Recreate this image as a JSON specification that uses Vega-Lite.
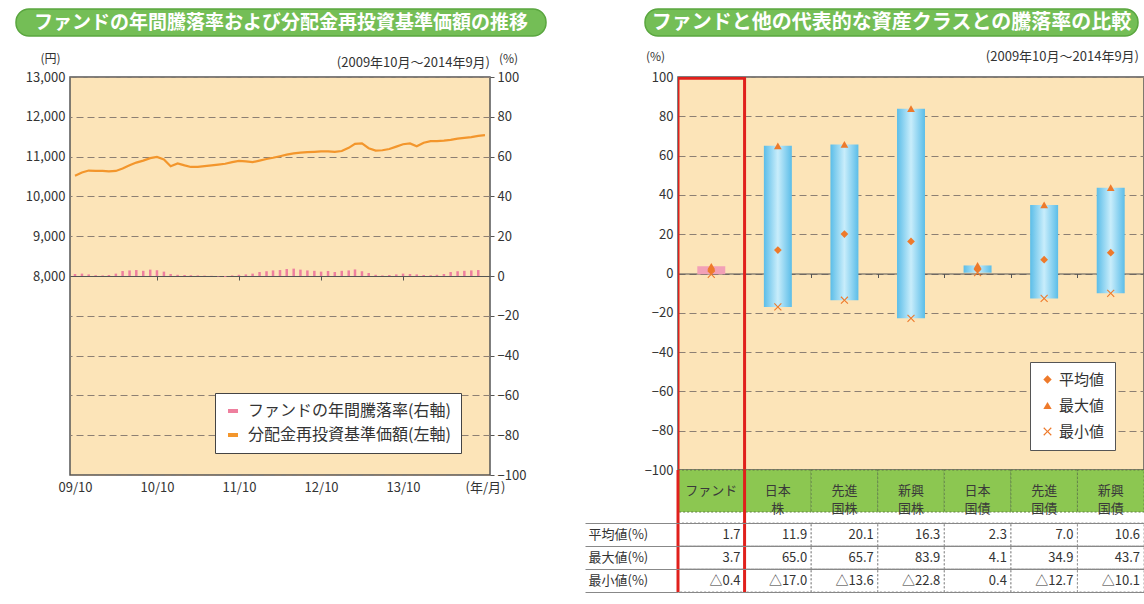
{
  "$schema": "https://vega.github.io/schema/vega-lite/v6.json",
  "background": "white",
  "padding": {"left": 15, "top": 8, "right": 0, "bottom": 0},
  "config": {
    "font": "Noto Sans CJK JP",
    "view": {"stroke": null},
    "axis": {"labelFont": "Noto Sans CJK JP", "titleFont": "Noto Sans CJK JP", "labelColor": "#333", "titleColor": "#333", "labelFontSize": 13, "titleFontSize": 12, "titleFontWeight": "normal"},
    "legend": {"labelFont": "Noto Sans CJK JP"},
    "title": {"font": "Noto Sans CJK JP"}
  },
  "datasets": {
    "nav": [
      {"d": "2009-10-01", "v": 10520}, {"d": "2009-11-01", "v": 10600}, {"d": "2009-12-01", "v": 10650},
      {"d": "2010-01-01", "v": 10640}, {"d": "2010-02-01", "v": 10640}, {"d": "2010-03-01", "v": 10630},
      {"d": "2010-04-01", "v": 10640}, {"d": "2010-05-01", "v": 10700}, {"d": "2010-06-01", "v": 10780},
      {"d": "2010-07-01", "v": 10850}, {"d": "2010-08-01", "v": 10900}, {"d": "2010-09-01", "v": 10960},
      {"d": "2010-10-01", "v": 10990}, {"d": "2010-11-01", "v": 10930}, {"d": "2010-12-01", "v": 10760},
      {"d": "2011-01-01", "v": 10830}, {"d": "2011-02-01", "v": 10780}, {"d": "2011-03-01", "v": 10740},
      {"d": "2011-04-01", "v": 10740}, {"d": "2011-05-01", "v": 10760}, {"d": "2011-06-01", "v": 10780},
      {"d": "2011-07-01", "v": 10800}, {"d": "2011-08-01", "v": 10820}, {"d": "2011-09-01", "v": 10860},
      {"d": "2011-10-01", "v": 10890}, {"d": "2011-11-01", "v": 10880}, {"d": "2011-12-01", "v": 10860},
      {"d": "2012-01-01", "v": 10900}, {"d": "2012-02-01", "v": 10940}, {"d": "2012-03-01", "v": 10970},
      {"d": "2012-04-01", "v": 11010}, {"d": "2012-05-01", "v": 11050}, {"d": "2012-06-01", "v": 11080},
      {"d": "2012-07-01", "v": 11100}, {"d": "2012-08-01", "v": 11110}, {"d": "2012-09-01", "v": 11120},
      {"d": "2012-10-01", "v": 11130}, {"d": "2012-11-01", "v": 11130}, {"d": "2012-12-01", "v": 11120},
      {"d": "2013-01-01", "v": 11140}, {"d": "2013-02-01", "v": 11220}, {"d": "2013-03-01", "v": 11320},
      {"d": "2013-04-01", "v": 11330}, {"d": "2013-05-01", "v": 11210}, {"d": "2013-06-01", "v": 11150},
      {"d": "2013-07-01", "v": 11160}, {"d": "2013-08-01", "v": 11190}, {"d": "2013-09-01", "v": 11250},
      {"d": "2013-10-01", "v": 11310}, {"d": "2013-11-01", "v": 11330}, {"d": "2013-12-01", "v": 11260},
      {"d": "2014-01-01", "v": 11350}, {"d": "2014-02-01", "v": 11390}, {"d": "2014-03-01", "v": 11390},
      {"d": "2014-04-01", "v": 11400}, {"d": "2014-05-01", "v": 11420}, {"d": "2014-06-01", "v": 11450},
      {"d": "2014-07-01", "v": 11470}, {"d": "2014-08-01", "v": 11490}, {"d": "2014-09-01", "v": 11520},
      {"d": "2014-10-01", "v": 11540}
    ],
    "ret": [
      {"d": "2009-10-01", "r": 1.0}, {"d": "2009-11-01", "r": 1.2}, {"d": "2009-12-01", "r": 0.8},
      {"d": "2010-01-01", "r": 0.4}, {"d": "2010-02-01", "r": 0.3}, {"d": "2010-03-01", "r": 0.5},
      {"d": "2010-04-01", "r": 1.2}, {"d": "2010-05-01", "r": 2.5}, {"d": "2010-06-01", "r": 2.8},
      {"d": "2010-07-01", "r": 3.0}, {"d": "2010-08-01", "r": 2.6}, {"d": "2010-09-01", "r": 3.2},
      {"d": "2010-10-01", "r": 2.9}, {"d": "2010-11-01", "r": 2.2}, {"d": "2010-12-01", "r": 1.0},
      {"d": "2011-01-01", "r": 0.6}, {"d": "2011-02-01", "r": 0.5}, {"d": "2011-03-01", "r": 0.4},
      {"d": "2011-04-01", "r": 0.3}, {"d": "2011-05-01", "r": 0.2}, {"d": "2011-06-01", "r": 0.1},
      {"d": "2011-07-01", "r": -0.2}, {"d": "2011-08-01", "r": -0.4}, {"d": "2011-09-01", "r": 0.3},
      {"d": "2011-10-01", "r": 0.6}, {"d": "2011-11-01", "r": 0.8}, {"d": "2011-12-01", "r": 1.2},
      {"d": "2012-01-01", "r": 2.0}, {"d": "2012-02-01", "r": 2.4}, {"d": "2012-03-01", "r": 2.8},
      {"d": "2012-04-01", "r": 3.0}, {"d": "2012-05-01", "r": 3.5}, {"d": "2012-06-01", "r": 3.7},
      {"d": "2012-07-01", "r": 3.2}, {"d": "2012-08-01", "r": 2.8}, {"d": "2012-09-01", "r": 2.6},
      {"d": "2012-10-01", "r": 2.2}, {"d": "2012-11-01", "r": 2.5}, {"d": "2012-12-01", "r": 2.0},
      {"d": "2013-01-01", "r": 2.6}, {"d": "2013-02-01", "r": 2.8}, {"d": "2013-03-01", "r": 3.3},
      {"d": "2013-04-01", "r": 2.4}, {"d": "2013-05-01", "r": 1.5}, {"d": "2013-06-01", "r": 0.6},
      {"d": "2013-07-01", "r": 0.3}, {"d": "2013-08-01", "r": 0.5}, {"d": "2013-09-01", "r": 0.8},
      {"d": "2013-10-01", "r": 1.2}, {"d": "2013-11-01", "r": 1.0}, {"d": "2013-12-01", "r": 0.8},
      {"d": "2014-01-01", "r": 0.5}, {"d": "2014-02-01", "r": 0.4}, {"d": "2014-03-01", "r": 0.6},
      {"d": "2014-04-01", "r": 1.0}, {"d": "2014-05-01", "r": 2.0}, {"d": "2014-06-01", "r": 2.4},
      {"d": "2014-07-01", "r": 2.6}, {"d": "2014-08-01", "r": 2.8}, {"d": "2014-09-01", "r": 3.0}
    ],
    "assets": [
      {"cat": "ファンド", "head": "ファンド", "mean": 1.7, "max": 3.7, "min": -0.4},
      {"cat": "日本株", "head": "日本\n株", "mean": 11.9, "max": 65.0, "min": -17.0},
      {"cat": "先進国株", "head": "先進\n国株", "mean": 20.1, "max": 65.7, "min": -13.6},
      {"cat": "新興国株", "head": "新興\n国株", "mean": 16.3, "max": 83.9, "min": -22.8},
      {"cat": "日本国債", "head": "日本\n国債", "mean": 2.3, "max": 4.1, "min": 0.4},
      {"cat": "先進国債", "head": "先進\n国債", "mean": 7.0, "max": 34.9, "min": -12.7},
      {"cat": "新興国債", "head": "新興\n国債", "mean": 10.6, "max": 43.7, "min": -10.1}
    ],
    "table": [
      {"cat": "ファンド", "row": "平均値(%)", "text": "1.7"},
      {"cat": "日本株", "row": "平均値(%)", "text": "11.9"},
      {"cat": "先進国株", "row": "平均値(%)", "text": "20.1"},
      {"cat": "新興国株", "row": "平均値(%)", "text": "16.3"},
      {"cat": "日本国債", "row": "平均値(%)", "text": "2.3"},
      {"cat": "先進国債", "row": "平均値(%)", "text": "7.0"},
      {"cat": "新興国債", "row": "平均値(%)", "text": "10.6"},
      {"cat": "ファンド", "row": "最大値(%)", "text": "3.7"},
      {"cat": "日本株", "row": "最大値(%)", "text": "65.0"},
      {"cat": "先進国株", "row": "最大値(%)", "text": "65.7"},
      {"cat": "新興国株", "row": "最大値(%)", "text": "83.9"},
      {"cat": "日本国債", "row": "最大値(%)", "text": "4.1"},
      {"cat": "先進国債", "row": "最大値(%)", "text": "34.9"},
      {"cat": "新興国債", "row": "最大値(%)", "text": "43.7"},
      {"cat": "ファンド", "row": "最小値(%)", "text": "△0.4"},
      {"cat": "日本株", "row": "最小値(%)", "text": "△17.0"},
      {"cat": "先進国株", "row": "最小値(%)", "text": "△13.6"},
      {"cat": "新興国株", "row": "最小値(%)", "text": "△22.8"},
      {"cat": "日本国債", "row": "最小値(%)", "text": "0.4"},
      {"cat": "先進国債", "row": "最小値(%)", "text": "△12.7"},
      {"cat": "新興国債", "row": "最小値(%)", "text": "△10.1"}
    ]
  },
  "spacing": 12,
  "resolve": {"scale": {"color": "independent", "shape": "independent"}, "legend": {"color": "independent", "shape": "independent"}},
  "vconcat": [
    {
      "spacing": 97,
      "hconcat": [
        {
          "width": 530,
          "height": 27,
          "data": {"values": [{"t": "ファンドの年間騰落率および分配金再投資基準価額の推移"}]},
          "encoding": {
            "x": {"field": "t", "type": "nominal", "axis": null, "scale": {"paddingInner": 0, "paddingOuter": 0}},
            "y": {"field": "t", "type": "nominal", "axis": null, "scale": {"paddingInner": 0, "paddingOuter": 0}}
          },
          "layer": [
            {"mark": {"type": "rect", "fill": "#74be56", "stroke": "#5aa63f", "strokeWidth": 1.5, "cornerRadius": 13}},
            {"mark": {"type": "text", "color": "white", "fontSize": 19, "fontWeight": "bold"}, "encoding": {"text": {"field": "t"}}}
          ]
        },
        {
          "width": 493,
          "height": 27,
          "data": {"values": [{"t": "ファンドと他の代表的な資産クラスとの騰落率の比較"}]},
          "encoding": {
            "x": {"field": "t", "type": "nominal", "axis": null, "scale": {"paddingInner": 0, "paddingOuter": 0}},
            "y": {"field": "t", "type": "nominal", "axis": null, "scale": {"paddingInner": 0, "paddingOuter": 0}}
          },
          "layer": [
            {"mark": {"type": "rect", "fill": "#74be56", "stroke": "#5aa63f", "strokeWidth": 1.5, "cornerRadius": 13}},
            {"mark": {"type": "text", "color": "white", "fontSize": 20, "fontWeight": "bold"}, "encoding": {"text": {"field": "t"}}}
          ]
        }
      ]
    },
    {
      "spacing": 57,
      "resolve": {"scale": {"color": "independent", "shape": "independent"}, "legend": {"color": "independent", "shape": "independent"}},
      "hconcat": [
        {
          "spacing": 0,
          "resolve": {"scale": {"color": "independent"}, "legend": {"color": "independent"}},
          "hconcat": [
            {
              "width": 1,
              "height": 1,
              "data": {"values": [{"a": 0}]},
              "mark": {"type": "point", "opacity": 0, "size": 0},
              "encoding": {}
            },
            {
              "width": 420,
              "height": 398,
              "view": {"fill": "#fce4b8", "stroke": "#555", "strokeWidth": 1.5},
              "title": {"text": "(2009年10月～2014年9月)", "anchor": "end", "frame": "group", "fontSize": 13, "fontWeight": "normal", "color": "#333", "offset": -18},
              "layer": [
                {
                  "data": {"name": "ret"},
                  "mark": {"type": "bar", "width": 2.5},
                  "encoding": {
                    "x": {"field": "d", "type": "temporal", "scale": {"type": "utc", "domain": ["2009-10-01", "2014-10-01"]},
                      "axis": {"orient": "bottom", "offset": -199, "labels": false, "ticks": true, "tickSize": 4, "tickColor": "#555", "domain": true, "domainColor": "#555", "domainWidth": 1.2, "grid": false, "title": null, "values": ["2010-10-01", "2011-10-01", "2012-10-01", "2013-10-01"]}},
                    "y": {"field": "r", "type": "quantitative", "scale": {"domain": [-100, 100]},
                      "axis": {"orient": "right", "values": [-100, -80, -60, -40, -20, 0, 20, 40, 60, 80, 100], "labelOverlap": false, "title": "(%)", "titleAngle": 0, "titleX": 18, "titleY": -19, "titleAlign": "center", "titleBaseline": "middle", "titleFontSize": 12, "grid": true, "gridDash": [7, 4], "gridColor": "#8c7f73", "ticks": true, "tickSize": 4, "tickColor": "#555", "labelPadding": 3, "domain": false}},
                    "color": {"datum": "ファンドの年間騰落率(右軸)", "type": "nominal",
                      "scale": {"domain": ["ファンドの年間騰落率(右軸)", "分配金再投資基準価額(左軸)"], "range": ["#ee7f9e", "#f3962c"]},
                      "legend": {"title": null, "orient": "none", "legendX": 145, "legendY": 316, "fillColor": "white", "strokeColor": "#444", "padding": 10, "labelFontSize": 16, "labelOffset": 7, "labelLimit": 400, "labelColor": "#333", "symbolType": "M-1,-0.4H1V0.4H-1Z", "symbolSize": 100, "symbolStrokeWidth": 0, "rowPadding": 8}}
                  }
                },
                {
                  "data": {"name": "nav"},
                  "mark": {"type": "line", "strokeWidth": 2.2},
                  "encoding": {
                    "x": {"field": "d", "type": "temporal", "scale": {"type": "utc", "domain": ["2009-10-01", "2014-10-01"]},
                      "axis": {"orient": "bottom", "format": "%y/%m", "labelExpr": "datum.label == '14/10' ? '(年/月)' : datum.label", "values": ["2009-10-01", "2010-10-01", "2011-10-01", "2012-10-01", "2013-10-01", "2014-10-01"], "ticks": false, "domain": false, "grid": false, "title": null, "labelPadding": 6}},
                    "y": {"field": "v", "type": "quantitative", "scale": {"domain": [3000, 13000]},
                      "axis": {"orient": "left", "values": [8000, 9000, 10000, 11000, 12000, 13000], "labelExpr": "format(datum.value, ',')", "labelOverlap": false, "grid": false, "ticks": false, "domain": false, "labelPadding": 5, "title": "(円)", "titleAngle": 0, "titleX": -20, "titleY": -19, "titleAlign": "center", "titleBaseline": "middle", "minExtent": 52, "maxExtent": 52}},
                    "color": {"datum": "分配金再投資基準価額(左軸)", "type": "nominal"}
                  }
                }
              ],
              "resolve": {"scale": {"y": "independent"}, "axis": {"x": "independent"}}
            }
          ]
        },
        {
          "spacing": 0,
          "bounds": "flush",
          "resolve": {"scale": {"shape": "independent"}, "legend": {"shape": "independent"}},
          "vconcat": [
            {
              "width": 466,
              "height": 393,
              "view": {"fill": "#fce4b8", "stroke": "#555", "strokeWidth": 1.5},
              "title": {"text": "(2009年10月～2014年9月)", "anchor": "end", "frame": "group", "fontSize": 13, "fontWeight": "normal", "color": "#333", "offset": -14, "dx": -5},
              "data": {"name": "assets"},
              "encoding": {
                "x": {"field": "cat", "type": "nominal", "sort": null,
                  "scale": {"domain": ["ファンド", "日本株", "先進国株", "新興国株", "日本国債", "先進国債", "新興国債"], "paddingInner": 0, "paddingOuter": 0},
                  "axis": {"orient": "bottom", "offset": -196.5, "labels": false, "title": null, "ticks": true, "tickBand": "extent", "tickSize": 4, "tickColor": "#555", "domain": true, "domainColor": "#555", "domainWidth": 1.2, "grid": false}}
              },
              "layer": [
                {
                  "transform": [{"filter": "datum.cat !== 'ファンド'"}],
                  "mark": {"type": "bar", "width": {"band": 0.42},
                    "color": {"gradient": "linear", "x1": 0, "y1": 0, "x2": 1, "y2": 0, "stops": [{"offset": 0, "color": "#5bbde8"}, {"offset": 0.5, "color": "#c8edfb"}, {"offset": 1, "color": "#5bbde8"}]}},
                  "encoding": {
                    "y": {"field": "min", "type": "quantitative", "scale": {"domain": [-100, 100]},
                      "axis": {"values": [-100, -80, -60, -40, -20, 0, 20, 40, 60, 80, 100], "labelOverlap": false, "title": "(%)", "titleAngle": 0, "titleX": -23, "titleY": -21, "titleAlign": "center", "titleBaseline": "middle", "titleFontSize": 12, "grid": true, "gridDash": [7, 4], "gridColor": "#8c7f73", "ticks": false, "labelPadding": 5, "domain": false, "minExtent": 93, "maxExtent": 93}},
                    "y2": {"field": "max"}
                  }
                },
                {
                  "transform": [{"filter": "datum.cat === 'ファンド'"}],
                  "mark": {"type": "bar", "width": {"band": 0.42}, "color": "#f2a0b6"},
                  "encoding": {
                    "y": {"field": "min", "type": "quantitative",
                      "axis": {"values": [-100, -80, -60, -40, -20, 0, 20, 40, 60, 80, 100], "labelOverlap": false, "title": "(%)", "titleAngle": 0, "titleX": -23, "titleY": -21, "titleAlign": "center", "titleBaseline": "middle", "titleFontSize": 12, "grid": true, "gridDash": [7, 4], "gridColor": "#8c7f73", "ticks": false, "labelPadding": 5, "domain": false, "minExtent": 93, "maxExtent": 93}},
                    "y2": {"field": "max"}
                  }
                },
                {
                  "transform": [{"fold": ["mean", "max", "min"], "as": ["stat", "val"]}],
                  "mark": {"type": "point", "filled": true, "opacity": 1},
                  "encoding": {
                    "y": {"field": "val", "type": "quantitative",
                      "axis": {"values": [-100, -80, -60, -40, -20, 0, 20, 40, 60, 80, 100], "labelOverlap": false, "title": "(%)", "titleAngle": 0, "titleX": -23, "titleY": -21, "titleAlign": "center", "titleBaseline": "middle", "titleFontSize": 12, "grid": true, "gridDash": [7, 4], "gridColor": "#8c7f73", "ticks": false, "labelPadding": 5, "domain": false, "minExtent": 93, "maxExtent": 93}},
                    "shape": {"field": "stat", "type": "nominal",
                      "scale": {"domain": ["mean", "max", "min"], "range": ["diamond", "triangle-up", "M-1,-0.8L-0.8,-1L0,-0.2L0.8,-1L1,-0.8L0.2,0L1,0.8L0.8,1L0,0.2L-0.8,1L-1,0.8L-0.2,0Z"]},
                      "legend": {"title": null, "orient": "none", "legendX": 352, "legendY": 285, "fillColor": "white", "strokeColor": "#555", "padding": 10, "labelFontSize": 15, "labelColor": "#333", "symbolSize": 70, "symbolFillColor": "#ee7a2b", "symbolStrokeColor": "#ee7a2b", "symbolStrokeWidth": 0, "rowPadding": 10,
                        "labelExpr": "datum.label == 'mean' ? '平均値' : datum.label == 'max' ? '最大値' : '最小値'"}},
                    "color": {"value": "#ee7a2b"},
                    "size": {"value": 60}
                  }
                },
                {
                  "transform": [{"filter": "datum.cat === 'ファンド'"}],
                  "mark": {"type": "rect", "filled": false, "color": "#e0201c", "strokeWidth": 3, "clip": true},
                  "encoding": {
                    "y": {"datum": 99.4, "type": "quantitative",
                      "axis": {"values": [-100, -80, -60, -40, -20, 0, 20, 40, 60, 80, 100], "labelOverlap": false, "title": "(%)", "titleAngle": 0, "titleX": -23, "titleY": -21, "titleAlign": "center", "titleBaseline": "middle", "titleFontSize": 12, "grid": true, "gridDash": [7, 4], "gridColor": "#8c7f73", "ticks": false, "labelPadding": 5, "domain": false, "minExtent": 93, "maxExtent": 93}},
                    "y2": {"datum": -130}}
                }
              ]
            },
            {
              "width": 466,
              "height": 42,
              "data": {"name": "assets"},
              "encoding": {
                "x": {"field": "cat", "type": "nominal", "sort": null,
                  "scale": {"domain": ["ファンド", "日本株", "先進国株", "新興国株", "日本国債", "先進国債", "新興国債"], "paddingInner": 0, "paddingOuter": 0},
                  "axis": null}
              },
              "layer": [
                {"mark": {"type": "rect", "fill": "#8cc751", "stroke": "#5e7f44", "strokeDash": [2, 2], "strokeWidth": 1}},
                {"mark": {"type": "text", "fontSize": 13, "color": "#3a3a3a", "lineBreak": "\n", "lineHeight": 18}, "encoding": {"text": {"field": "head"}}},
                {"transform": [{"filter": "datum.cat === 'ファンド'"}], "mark": {"type": "rule", "color": "#e0201c", "strokeWidth": 3}, "encoding": {"x": {"field": "cat", "type": "nominal", "bandPosition": 0}}},
                {"transform": [{"filter": "datum.cat === 'ファンド'"}], "mark": {"type": "rule", "color": "#e0201c", "strokeWidth": 3}, "encoding": {"x": {"field": "cat", "type": "nominal", "bandPosition": 1}}}
              ]
            },
            {
              "width": 466,
              "height": 80,
              "data": {"name": "table"},
              "encoding": {
                "x": {"field": "cat", "type": "nominal", "sort": null,
                  "scale": {"domain": ["ファンド", "日本株", "先進国株", "新興国株", "日本国債", "先進国債", "新興国債"], "paddingInner": 0, "paddingOuter": 0},
                  "axis": null},
                "y": {"field": "row", "type": "nominal", "sort": null,
                  "scale": {"domain": ["平均値(%)", "最大値(%)", "最小値(%)"], "paddingInner": 0, "paddingOuter": 0.24, "align": 1},
                  "axis": {"title": null, "labelAlign": "left", "labelPadding": -3, "tickBand": "extent", "tickSize": 93, "tickColor": "#888", "ticks": true, "domain": false, "grid": true, "gridColor": "#888", "gridDash": [], "labelFontSize": 13, "labelColor": "#333", "minExtent": 93, "maxExtent": 93}}
              },
              "layer": [
                {"mark": {"type": "rect", "filled": false, "color": "#999", "strokeDash": [2, 2], "strokeWidth": 1}},
                {"mark": {"type": "text", "align": "right", "dx": -4, "fontSize": 13, "color": "#333"}, "encoding": {"x": {"field": "cat", "type": "nominal", "bandPosition": 1}, "text": {"field": "text"}}},
                {"transform": [{"filter": "datum.cat === 'ファンド' && datum.row === '平均値(%)'"}], "mark": {"type": "rule", "color": "#e0201c", "strokeWidth": 3}, "encoding": {"x": {"field": "cat", "type": "nominal", "bandPosition": 0}, "y": null}},
                {"transform": [{"filter": "datum.cat === 'ファンド' && datum.row === '平均値(%)'"}], "mark": {"type": "rule", "color": "#e0201c", "strokeWidth": 3}, "encoding": {"x": {"field": "cat", "type": "nominal", "bandPosition": 1}, "y": null}}
              ]
            }
          ]
        }
      ]
    }
  ]
}
